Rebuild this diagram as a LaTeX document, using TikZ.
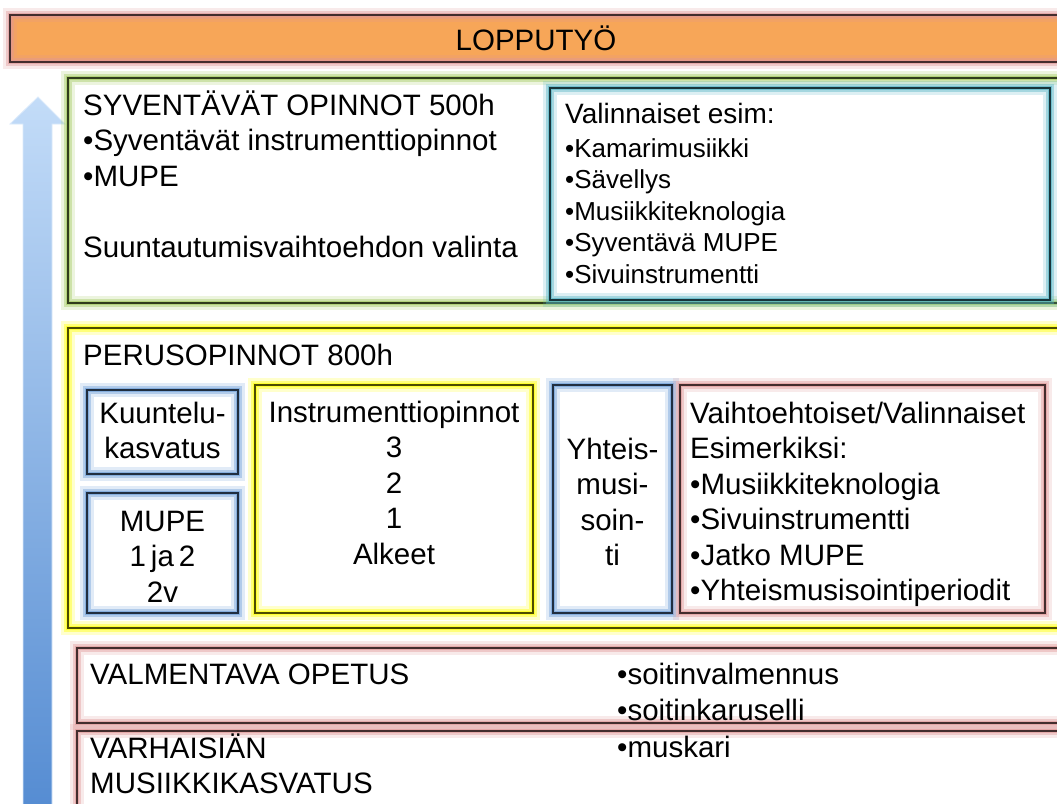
\documentclass[tikz,border=0pt]{standalone}
\usepackage{fontspec}
\setmainfont{Liberation Sans}
\usetikzlibrary{positioning}

\definecolor{loppuorange}{RGB}{247,166,88}
\definecolor{glowpink}{RGB}{224,150,150}
\definecolor{glowgreen}{RGB}{160,200,90}
\definecolor{glowteal}{RGB}{80,178,195}
\definecolor{glowyellow}{RGB}{255,255,0}
\definecolor{glowblue}{RGB}{105,155,215}
\definecolor{arrowtop}{RGB}{195,220,248}
\definecolor{arrowbottom}{RGB}{85,140,210}

\begin{document}
\begin{tikzpicture}[x=1pt,y=-1pt,
    glow/.style 2 args={preaction={fill=#2},
      preaction={draw=#1, line width=14pt, draw opacity=0.2},
      preaction={draw=#1, line width=8pt, draw opacity=0.4},
      preaction={draw=#1, line width=4pt, draw opacity=0.6},
      draw=#1!30!black, line width=1.3pt},
    txt/.style={inner sep=0pt, align=left, font=\fontsize{29.5}{35.5}\selectfont},
    ctxt/.style={inner sep=0pt, align=center, font=\fontsize{29.5}{35.5}\selectfont},
    small/.style={inner sep=0pt, align=left, font=\fontsize{26}{31.6}\selectfont}]
    \useasboundingbox (0,0) rectangle (1057,803);
    \fill[white] (0,0) rectangle (1057,803);

    % arrow on the left
    \shade[top color=arrowtop, bottom color=arrowbottom, draw=arrowtop!60!white, line width=0.8pt]
      (23,810) -- (23,124) -- (10,124) -- (38,97) -- (65,124) -- (52,124) -- (52,810) -- cycle;

    % levels (text nodes sit on the baseline of their last line)
    \draw[glow={glowpink}{loppuorange}] (10,15) rectangle (1075,62);
    \node[ctxt] (loppu) at (536,38.5) {LOPPUTYÖ};

    \draw[glow={glowgreen}{white}] (68,78) rectangle (1075,303);
    \draw[glow={glowteal}{white}] (550,88) rectangle (1050,300);
    \node[txt, anchor=base west] (syv) at (83,257) {SYVENTÄVÄT OPINNOT 500h\\
      •Syventävät instrumenttiopinnot\\•MUPE\\[35.5pt]Suuntautumisvaihtoehdon valinta};
    \node[inner sep=0pt, anchor=base west, font=\fontsize{28}{33}\selectfont] (valhead) at (565,123) {Valinnaiset esim:};
    \node[small, anchor=base west] (vallist) at (565,283.4) {•Kamarimusiikki\\•Sävellys\\
      •Musiikkiteknologia\\•Syventävä MUPE\\•Sivuinstrumentti};

    \draw[glow={glowyellow}{white}] (68,328) rectangle (1075,628);
    \node[txt, anchor=base west] (perus) at (83,365) {PERUSOPINNOT 800h};
    \draw[glow={glowblue}{white}] (87,390) rectangle (238,474);
    \node[ctxt, anchor=base] (kuunt) at (162.5,458.5) {Kuuntelu-\\kasvatus};
    \draw[glow={glowblue}{white}] (87,493) rectangle (238,613);
    \node[ctxt, anchor=base] (mupe) at (162.5,602) {MUPE\\1\,ja\,2\\2v};
    \draw[glow={glowyellow}{white}] (255,385) rectangle (533,613);
    \node[ctxt, anchor=base] (instr) at (394,564) {Instrumenttiopinnot\\3\\2\\1\\Alkeet};
    \draw[glow={glowblue}{white}] (553,385) rectangle (672,613);
    \node[ctxt, anchor=base] (yhteis) at (612.5,565.5) {Yhteis-\\musi-\\soin-\\ti};
    \draw[glow={glowpink}{white}] (680,385) rectangle (1045,613);
    \node[txt, anchor=base west] (vaihto) at (690,600.5) {Vaihtoehtoiset/Valinnaiset\\Esimerkiksi:\\
      •Musiikkiteknologia\\•Sivuinstrumentti\\•Jatko MUPE\\•Yhteismusisointiperiodit};

    \draw[glow={glowpink}{white}] (77,648) rectangle (1075,723);
    \node[txt, anchor=base west] (valm) at (90,684) {VALMENTAVA OPETUS};
    \node[txt, anchor=base west] (soitin) at (617,720) {•soitinvalmennus\\•soitinkaruselli};
    \draw[glow={glowpink}{white}] (77,731) rectangle (1075,830);
    \node[txt, anchor=base west] (varh) at (90,793.5) {VARHAISIÄN\\MUSIIKKIKASVATUS};
    \node[txt, anchor=base west] (muskari) at (617,757) {•muskari};
\end{tikzpicture}
\end{document}
